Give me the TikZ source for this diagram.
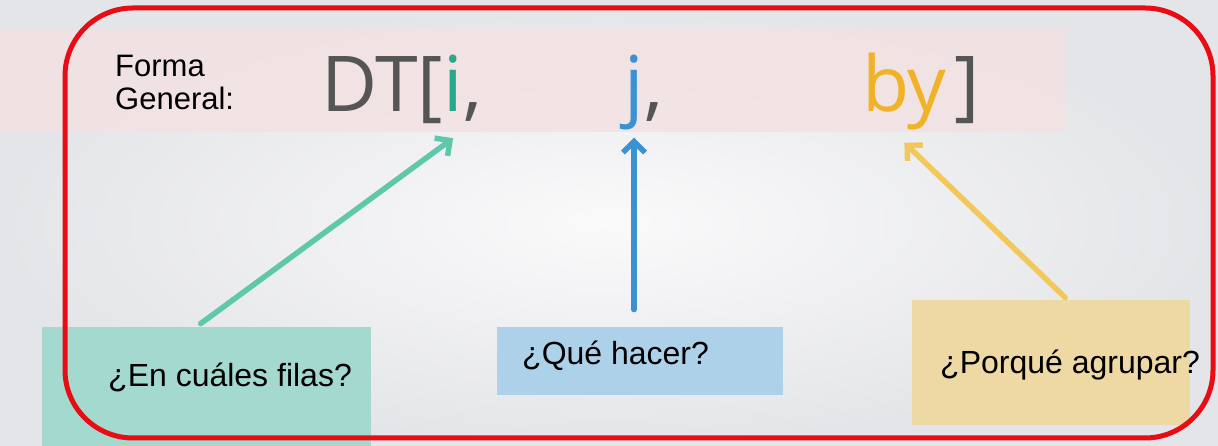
\documentclass[tikz,border=0pt]{standalone}
\usepackage{fontspec}
\setmainfont{Liberation Sans}
\newfontfamily\bigfont{Open Sans}
\usepackage{tikz}
\usetikzlibrary{positioning,arrows.meta,calc}
\definecolor{bgin}{RGB}{250,250,251}
\definecolor{bgout}{RGB}{228,229,232}
\definecolor{pinkband}{RGB}{243,226,226}
\definecolor{framered}{RGB}{232,12,20}
\definecolor{dtgray}{RGB}{85,85,85}
\definecolor{icol}{RGB}{40,168,138}
\definecolor{jcol}{RGB}{58,146,212}
\definecolor{bycol}{RGB}{240,178,40}
\definecolor{gboxc}{RGB}{164,217,208}
\definecolor{bboxc}{RGB}{174,209,234}
\definecolor{yboxc}{RGB}{238,216,164}
\definecolor{garrow}{RGB}{95,200,170}
\definecolor{barrow}{RGB}{60,145,210}
\definecolor{yarrow}{RGB}{242,200,90}

\begin{document}
\begin{tikzpicture}[x=1pt,y=1pt,
	big/.style={font=\bigfont\fontsize{77}{80}\selectfont, text=dtgray, inner sep=0pt, anchor=base west},
	lbl/.style={font=\fontsize{31}{33}\selectfont, inner sep=0pt, anchor=base west},
	qlbl/.style={font=\fontsize{32}{34}\selectfont, inner sep=0pt, anchor=base west},
	box/.style={inner sep=0pt, anchor=south west},
	hand/.style={line width=5.5pt, line cap=round, -{Straight Barb[length=11pt,width=22pt]}}]
	\useasboundingbox (0,0) rectangle (1218,446);
	\shade[inner color=bgin, outer color=bgout] (0,0) rectangle (1218,446);
	\fill[pinkband, opacity=.85] (0,314) rectangle (1065,416);

	% header
	\node[lbl] (forma) at (115,369) {Forma};
	\node[lbl] (general) at (115,336) {General:};
	\node[big] (dt) at (321,334) {DT[};
	\node[big, text=icol] (i) at (dt.base east) {i};
	\node[big] (c1) at (i.base east) {,};
	\node[big, anchor=base, text=jcol] (j) at (634,334) {j};
	\node[big] (c2) at (j.base east) {,};
	\node[big, text=bycol] (by) at (862,334) {by};
	\node[big] (rb) at ([xshift=7pt]by.base east) {]};

	% boxes
	\node[box, fill=gboxc, minimum width=329pt, minimum height=119pt] (gbox) at (42,0) {};
	\node[box, fill=bboxc, minimum width=286pt, minimum height=68pt] (bbox) at (497,51) {};
	\node[box, fill=yboxc, minimum width=278pt, minimum height=125pt] (ybox) at (912,21) {};
	\node[qlbl] (gtxt) at (108,59) {¿En cuáles filas?};
	\node[qlbl] (btxt) at (522,81) {¿Qué hacer?};
	\node[qlbl] (ytxt) at (940,72) {¿Porqué agrupar?};

	% arrows
	\draw[hand, garrow] ([xshift=-6pt,yshift=3pt]gbox.north) -- ([yshift=-26pt]i.south);
	\draw[hand, barrow] ($(j.south |- bbox.north)+(0,17)$) -- ([yshift=-7pt]j.south);
	\draw[hand, yarrow] ([xshift=14pt,yshift=2pt]ybox.north) -- ([yshift=-12pt]by.south);

	\draw[framered, line width=5pt, rounded corners=68pt] (65,8) rectangle (1213,438);
\end{tikzpicture}
\end{document}
